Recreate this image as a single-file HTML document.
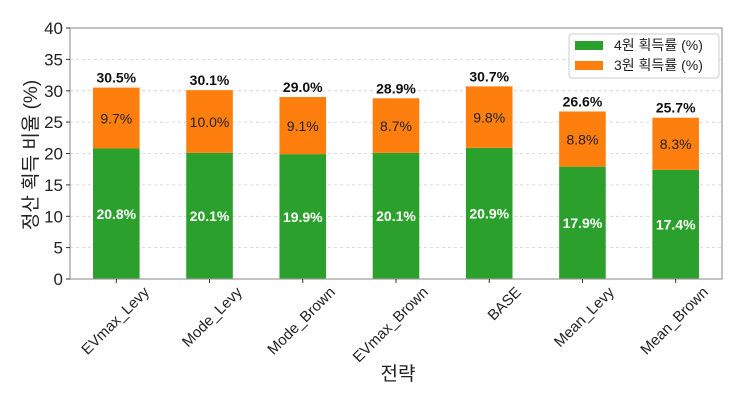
<!DOCTYPE html>
<html><head><meta charset="utf-8"><style>
html,body{margin:0;padding:0;background:#fff}
svg{display:block}
text{font-family:"Liberation Sans","Noto Sans CJK KR",sans-serif}
</style></head><body>
<svg width="746" height="406" viewBox="0 0 746 406" xmlns="http://www.w3.org/2000/svg">
<g stroke="#d0d0d0" stroke-width="0.8" stroke-dasharray="3,3">
<line x1="70" x2="722" y1="247.6" y2="247.6"/><line x1="70" x2="722" y1="216.3" y2="216.3"/>
<line x1="70" x2="722" y1="184.9" y2="184.9"/><line x1="70" x2="722" y1="153.5" y2="153.5"/>
<line x1="70" x2="722" y1="122.1" y2="122.1"/><line x1="70" x2="722" y1="90.8" y2="90.8"/>
<line x1="70" x2="722" y1="59.4" y2="59.4"/>
</g>
<g>
<rect x="93" y="148.48" width="46.6" height="130.52" fill="#2ca02c"/><rect x="93" y="87.61" width="46.6" height="60.87" fill="#ff7f0e"/>
<rect x="186.23" y="152.87" width="46.6" height="126.13" fill="#2ca02c"/><rect x="186.23" y="90.12" width="46.6" height="62.75" fill="#ff7f0e"/>
<rect x="279.46" y="154.13" width="46.6" height="124.87" fill="#2ca02c"/><rect x="279.46" y="97.03" width="46.6" height="57.1" fill="#ff7f0e"/>
<rect x="372.69" y="152.87" width="46.6" height="126.13" fill="#2ca02c"/><rect x="372.69" y="98.28" width="46.6" height="54.59" fill="#ff7f0e"/>
<rect x="465.92" y="147.85" width="46.6" height="131.15" fill="#2ca02c"/><rect x="465.92" y="86.35" width="46.6" height="61.5" fill="#ff7f0e"/>
<rect x="559.15" y="166.68" width="46.6" height="112.32" fill="#2ca02c"/><rect x="559.15" y="111.46" width="46.6" height="55.22" fill="#ff7f0e"/>
<rect x="652.38" y="169.81" width="46.6" height="109.19" fill="#2ca02c"/><rect x="652.38" y="117.73" width="46.6" height="52.08" fill="#ff7f0e"/>
</g>
<g font-size="14" font-weight="bold" fill="#fff" text-anchor="middle">
<text x="116.3" y="219">20.8%</text><text x="209.53" y="221.2">20.1%</text><text x="302.76" y="221.9">19.9%</text><text x="395.99" y="221.2">20.1%</text><text x="489.22" y="218.7">20.9%</text><text x="582.45" y="228.1">17.9%</text><text x="675.68" y="229.7">17.4%</text>
</g>
<g font-size="14" fill="#222" text-anchor="middle">
<text x="116.3" y="123.3">9.7%</text><text x="209.53" y="126.8">10.0%</text><text x="302.76" y="130.9">9.1%</text><text x="395.99" y="130.9">8.7%</text><text x="489.22" y="122.4">9.8%</text><text x="582.45" y="144.4">8.8%</text><text x="675.68" y="149.1">8.3%</text>
</g>
<g font-size="14" font-weight="bold" fill="#111" text-anchor="middle">
<text x="116.3" y="82.6">30.5%</text><text x="209.53" y="85.1">30.1%</text><text x="302.76" y="92">29.0%</text><text x="395.99" y="93.3">28.9%</text><text x="489.22" y="81.4">30.7%</text><text x="582.45" y="106.5">26.6%</text><text x="675.68" y="112.7">25.7%</text>
</g>
<rect x="70" y="28" width="652" height="251" fill="none" stroke="#999" stroke-width="1.2"/>
<g stroke="#333" stroke-width="1">
<line x1="116.3" x2="116.3" y1="279" y2="283"/><line x1="209.53" x2="209.53" y1="279" y2="283"/><line x1="302.76" x2="302.76" y1="279" y2="283"/><line x1="395.99" x2="395.99" y1="279" y2="283"/><line x1="489.22" x2="489.22" y1="279" y2="283"/><line x1="582.45" x2="582.45" y1="279" y2="283"/><line x1="675.68" x2="675.68" y1="279" y2="283"/>
<line x1="66" x2="70" y1="279" y2="279"/><line x1="66" x2="70" y1="247.6" y2="247.6"/><line x1="66" x2="70" y1="216.3" y2="216.3"/><line x1="66" x2="70" y1="184.9" y2="184.9"/><line x1="66" x2="70" y1="153.5" y2="153.5"/><line x1="66" x2="70" y1="122.1" y2="122.1"/><line x1="66" x2="70" y1="90.8" y2="90.8"/><line x1="66" x2="70" y1="59.4" y2="59.4"/><line x1="66" x2="70" y1="28" y2="28"/>
</g>
<g font-size="17" fill="#222" text-anchor="end">
<text x="63" y="285">0</text><text x="63" y="253.6">5</text><text x="63" y="222.3">10</text>
<text x="63" y="190.9">15</text><text x="63" y="159.5">20</text><text x="63" y="128.1">25</text>
<text x="63" y="96.8">30</text><text x="63" y="65.4">35</text><text x="63" y="34">40</text>
</g>
<g font-size="15" fill="#222" text-anchor="end">
<text transform="translate(150,293) rotate(-45)">EVmax_Levy</text>
<text transform="translate(243,293) rotate(-45)">Mode_Levy</text>
<text transform="translate(336,293) rotate(-45)">Mode_Brown</text>
<text transform="translate(429,293) rotate(-45)">EVmax_Brown</text>
<text transform="translate(522,293) rotate(-45)">BASE</text>
<text transform="translate(615,293) rotate(-45)">Mean_Levy</text>
<text transform="translate(709,293) rotate(-45)">Mean_Brown</text>
</g>
<text font-size="19" fill="#222" text-anchor="middle" transform="translate(37,155) rotate(-90)">정산 획득 비율 (%)</text>
<text x="398" y="380" font-size="19" fill="#222" text-anchor="middle">전략</text>
<rect x="569" y="34" width="150" height="44" fill="#fff" stroke="#ccc" rx="3"/>
<rect x="575" y="41" width="28" height="9" fill="#2ca02c"/>
<rect x="575" y="61" width="28" height="9" fill="#ff7f0e"/>
<text x="614" y="50" font-size="14" fill="#222">4원 획득률 (%)</text>
<text x="614" y="70" font-size="14" fill="#222">3원 획득률 (%)</text>
</svg>
</body></html>
